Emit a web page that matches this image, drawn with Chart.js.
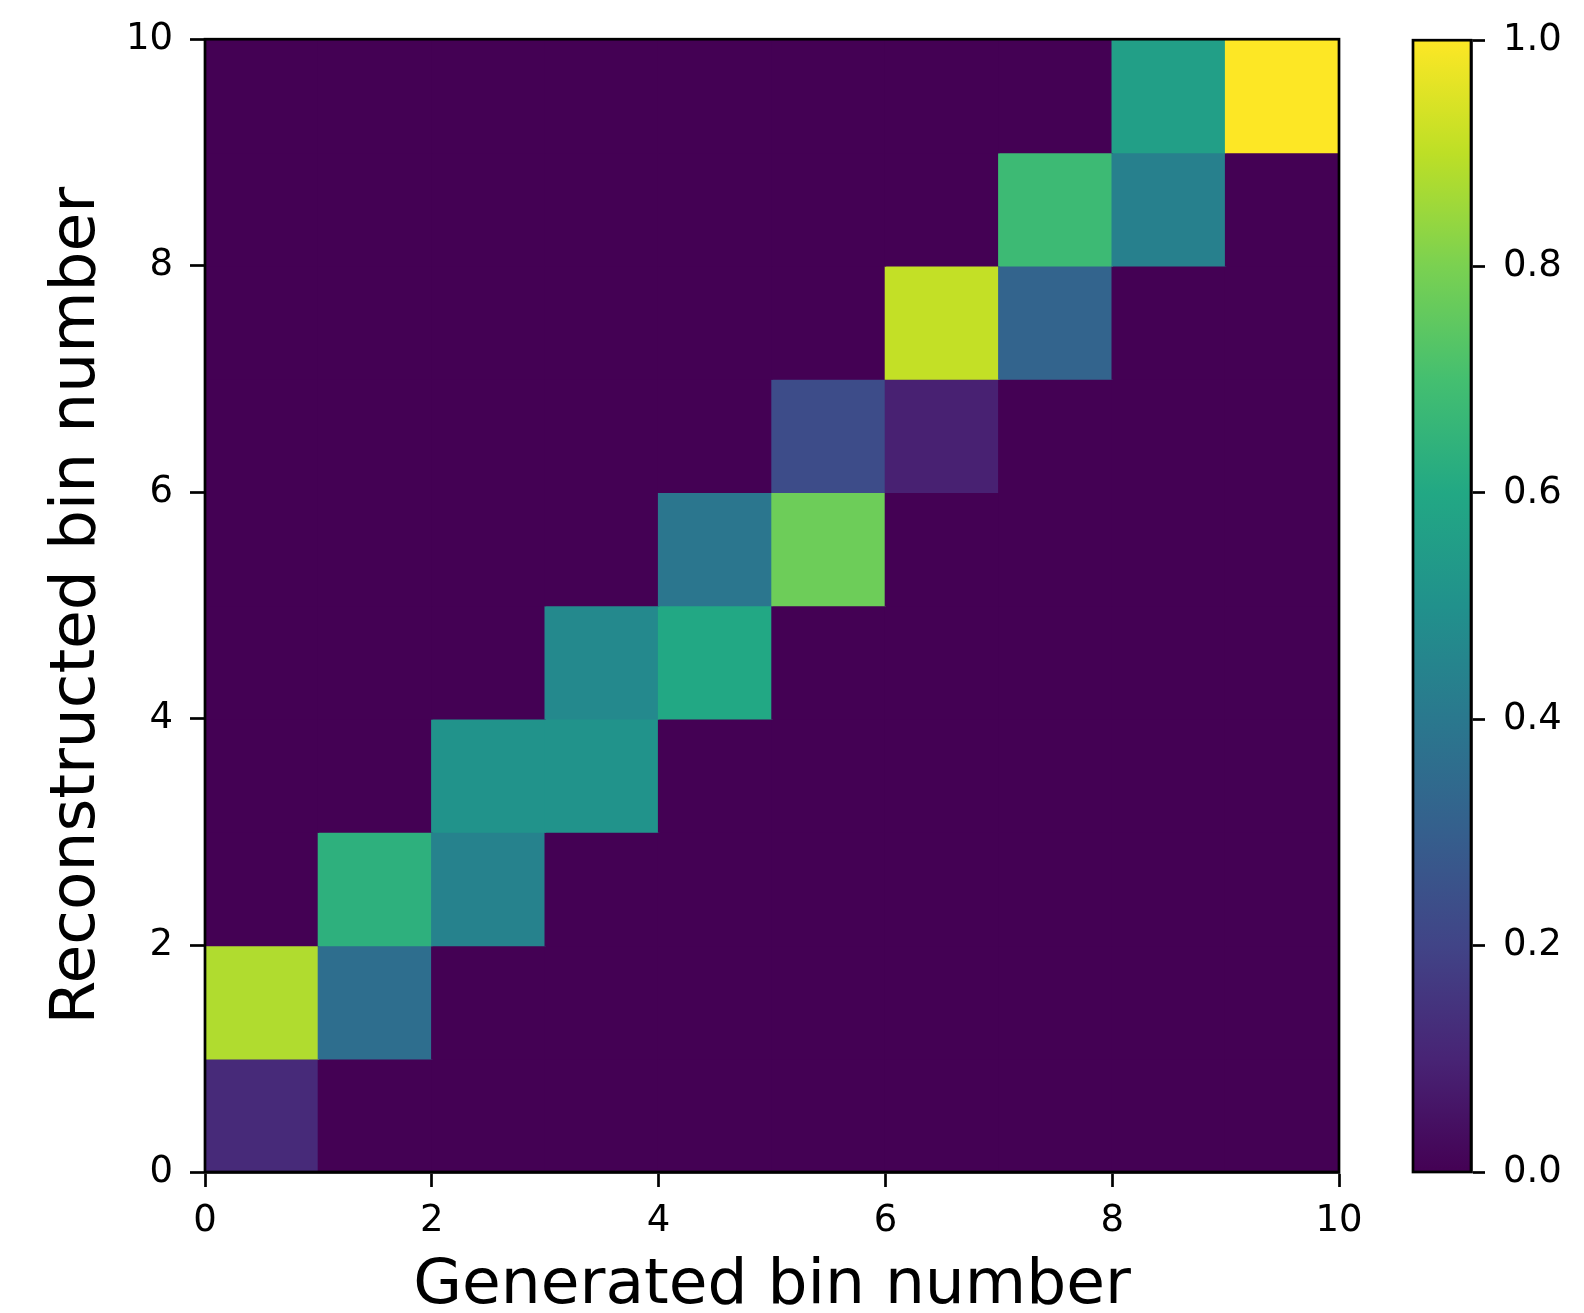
<!DOCTYPE html>
<html>
<head>
<meta charset="utf-8">
<script src="https://cdn.jsdelivr.net/npm/chart.js@4.4.1/dist/chart.umd.min.js"></script>
<style>
  html, body { margin: 0; padding: 0; background: #fff; }
  #wrap { position: relative; width: 1584px; height: 1313px; }
  #heat { position: absolute; left: 0; top: 0; }
  #cbar { position: absolute; left: 1410px; top: 0; }
</style>
</head>
<body>
<div id="wrap">
  <canvas id="heat" width="1584" height="1313"></canvas>
  <canvas id="cbar" width="174" height="1313"></canvas>
</div>
<script>
// response matrix: gen bin (x) vs reco bin (y)
const genBins = [0, 1, 2, 3, 4, 5, 6, 7, 8, 9];
const recoBins = [0, 1, 2, 3, 4, 5, 6, 7, 8, 9];

// one row per reco bin, values per gen bin
const responseRows = [
    [0.12, 0, 0, 0, 0, 0, 0, 0, 0, 0],
    [0.88, 0.36, 0, 0, 0, 0, 0, 0, 0, 0],
    [0, 0.635, 0.44, 0, 0, 0, 0, 0, 0, 0],
    [0, 0, 0.51, 0.51, 0, 0, 0, 0, 0, 0],
    [0, 0, 0, 0.47, 0.60, 0, 0, 0, 0, 0],
    [0, 0, 0, 0, 0.39, 0.775, 0, 0, 0, 0],
    [0, 0, 0, 0, 0, 0.23, 0.09, 0, 0, 0],
    [0, 0, 0, 0, 0, 0, 0.91, 0.32, 0, 0],
    [0, 0, 0, 0, 0, 0, 0, 0.68, 0.43, 0],
    [0, 0, 0, 0, 0, 0, 0, 0, 0.56, 1.0]
];

const axisTicks = [0, 2, 4, 6, 8, 10];
const cbarTicks = [0, 0.2, 0.4, 0.6, 0.8, 1.0];

// viridis, 11 stops
const viridisStops = ['#440154', '#482475', '#414487', '#355f8d', '#2a788e', '#21918c',
    '#22a884', '#44bf70', '#7ad151', '#bddf26', '#fde725'];

function hexRgb(h) {
    return [parseInt(h.slice(1, 3), 16), parseInt(h.slice(3, 5), 16), parseInt(h.slice(5, 7), 16)];
}

function viridis(v) {
    const t = Math.max(0, Math.min(1, v)) * 10;
    const i = Math.min(9, Math.floor(t));
    const f = t - i;
    const a = hexRgb(viridisStops[i]), b = hexRgb(viridisStops[i + 1]);
    const c = a.map((x, k) => Math.round(x + (b[k] - x) * f));
    return `rgb(${c[0]}, ${c[1]}, ${c[2]})`;
}

const FONT = 'DejaVu Sans';
const tickFont = {family: FONT, size: 37};
const titleFont = {family: FONT, size: 63, lineHeight: 1};

// box around the plot area (matplotlib style)
const framePlugin = {
    id: 'frame',
    afterDraw(chart) {
        const {ctx, chartArea: a} = chart;
        ctx.save();
        ctx.strokeStyle = '#000';
        ctx.lineWidth = 2.7;
        ctx.strokeRect(a.left, a.top, a.right - a.left, a.bottom - a.top);
        ctx.restore();
    }
};

// 1. heatmap cells as floating bars
const cells = [];
const cellColors = [];
responseRows.forEach((row, r) => {
    row.forEach((v, c) => {
        cells.push({x: genBins[c] + 0.5, y: [recoBins[r], recoBins[r] + 1]});
        cellColors.push(viridis(v));
    });
});

function axisOpts(pos, title, fitFn, pad, titlePad) {
    return {
        type: 'linear',
        position: pos,
        min: 0,
        max: 10,
        offset: false,
        afterBuildTicks: s => { s.ticks = axisTicks.map(v => ({value: v})); },
        afterFit: fitFn,
        ticks: {color: '#000', font: tickFont, padding: pad, maxRotation: 0, callback: v => String(v)},
        grid: {offset: false, drawOnChartArea: false, drawTicks: true, tickLength: 15, tickWidth: 2.7, tickColor: '#000'},
        border: {display: true, color: '#000', width: 2.7},
        title: {display: true, text: title, color: '#000', font: titleFont, padding: titlePad}
    };
}

new Chart(document.getElementById('heat'), {
    type: 'bar',
    data: {
        datasets: [{
            data: cells,
            backgroundColor: cellColors,
            borderWidth: 0,
            inflateAmount: 0.7,
            barPercentage: 1,
            categoryPercentage: 1,
            grouped: false
        }]
    },
    options: {
        responsive: false,
        animation: false,
        layout: {padding: {left: 0, top: 36, right: 245, bottom: 0}},
        plugins: {legend: {display: false}, tooltip: {enabled: false}},
        scales: {
            x: axisOpts('bottom', 'Generated bin number', s => { s.height = 141; }, 12, {top: 0, bottom: -5}),
            y: axisOpts('left', 'Reconstructed bin number', s => { s.width = 205; }, 17, {top: 46, bottom: 0})
        }
    },
    plugins: [framePlugin]
});

// 2. colorbar
new Chart(document.getElementById('cbar'), {
    type: 'bar',
    data: {
        labels: ['cbar'],
        datasets: [{
            data: [[cbarTicks[0], cbarTicks[cbarTicks.length - 1]]],
            backgroundColor: (ctx) => {
                const a = ctx.chart.chartArea;
                if (!a) return viridisStops[0];
                const g = ctx.chart.ctx.createLinearGradient(0, a.bottom, 0, a.top);
                viridisStops.forEach((c, i) => g.addColorStop(i / 10, c));
                return g;
            },
            borderWidth: 0,
            barPercentage: 1,
            categoryPercentage: 1
        }]
    },
    options: {
        responsive: false,
        animation: false,
        layout: {padding: {left: 3, top: 36, right: 0, bottom: 141}},
        plugins: {legend: {display: false}, tooltip: {enabled: false}},
        scales: {
            x: {display: false, offset: true},
            y: {
                position: 'right',
                min: 0,
                max: 1,
                afterBuildTicks: s => { s.ticks = cbarTicks.map(v => ({value: v})); },
                afterFit: s => { s.width = 113; },
                ticks: {color: '#000', font: tickFont, padding: 18, callback: v => Number(v).toFixed(1)},
                grid: {drawOnChartArea: false, drawTicks: true, tickLength: 14, tickWidth: 2.7, tickColor: '#000'},
                border: {display: true, color: '#000', width: 2.7}
            }
        }
    },
    plugins: [framePlugin]
});
</script>
</body>
</html>
